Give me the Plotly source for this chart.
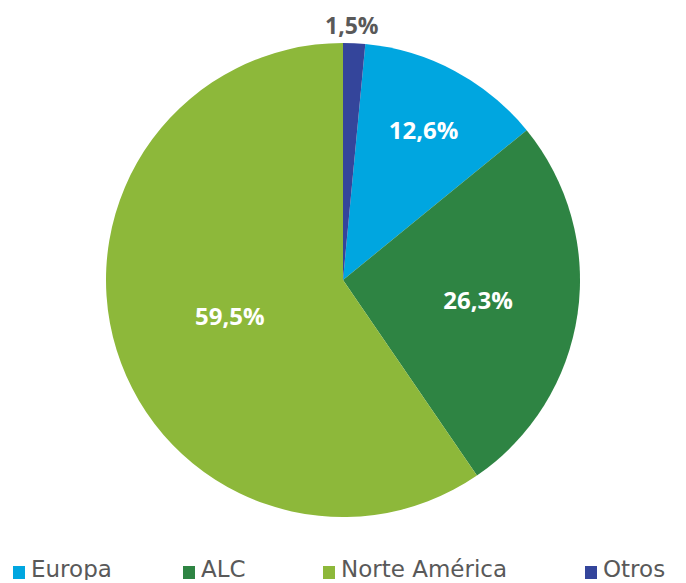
import plotly.graph_objects as go

labels = ["Europa", "ALC", "Norte América", "Otros"]
values = [12.6, 26.3, 59.5, 1.5]
colors = ["#00A6E0", "#2E8443", "#8DB83A", "#34459B"]

W, H = 686, 583
off = 8  # page body offset (px)

def fmt(v):
    return f"{v:.1f}".replace(".", ",") + "%"

# inside labels for the large slices; the tiny slice gets an outside note above the pie
slice_text = [fmt(v) for v in values[:-1]] + [""]

fig = go.Figure(go.Pie(
    labels=labels,
    values=values,
    sort=False,
    direction="clockwise",
    rotation=values[-1] / sum(values) * 360,
    marker=dict(colors=colors, line=dict(width=0)),
    text=slice_text,
    textinfo="text",
    textposition="inside",
    insidetextorientation="horizontal",
    textfont=dict(family="Open Sans", size=24, color="#FFFFFF", weight="bold"),
    domain=dict(x=[(106 - off)/W, (580 - off)/W], y=[1 - (517 - off)/H, 1 - (43 - off)/H]),
    hoverinfo="label+percent",
    showlegend=False,
))

annotations = [dict(
    text=fmt(values[-1]), x=(352 - off)/W, y=1.0,
    xref="paper", yref="paper", xanchor="center", yanchor="top", showarrow=False,
    borderpad=0,
    font=dict(family="Open Sans", size=23, color="#595959", weight="bold"),
)]
shapes = []

# custom legend row (layout positions, viewport px)
leg_sq_x = [13, 183, 323, 585]
sq = 12
sq_top, sq_bot = 566, 579
for lab, col, x0 in zip(labels, colors, leg_sq_x):
    shapes.append(dict(type="rect", xref="paper", yref="paper",
                       x0=(x0 - off)/W, x1=(x0 + sq - off)/W,
                       y0=1 - (sq_bot - off)/H, y1=1 - (sq_top - off)/H,
                       fillcolor=col, line=dict(width=0)))
    annotations.append(dict(text=lab, x=(x0 + sq + 5 - off)/W, y=1 - (569 - off)/H,
                            xref="paper", yref="paper", xanchor="left", yanchor="middle",
                            showarrow=False, height=22, borderpad=0,
                            font=dict(family="DejaVu Sans", size=23, color="#595959")))

fig.update_layout(
    width=W, height=H,
    margin=dict(l=0, r=0, t=0, b=0),
    paper_bgcolor="white", plot_bgcolor="white",
    showlegend=False,
    annotations=annotations,
    shapes=shapes,
)

fig.write_html("out.html")
